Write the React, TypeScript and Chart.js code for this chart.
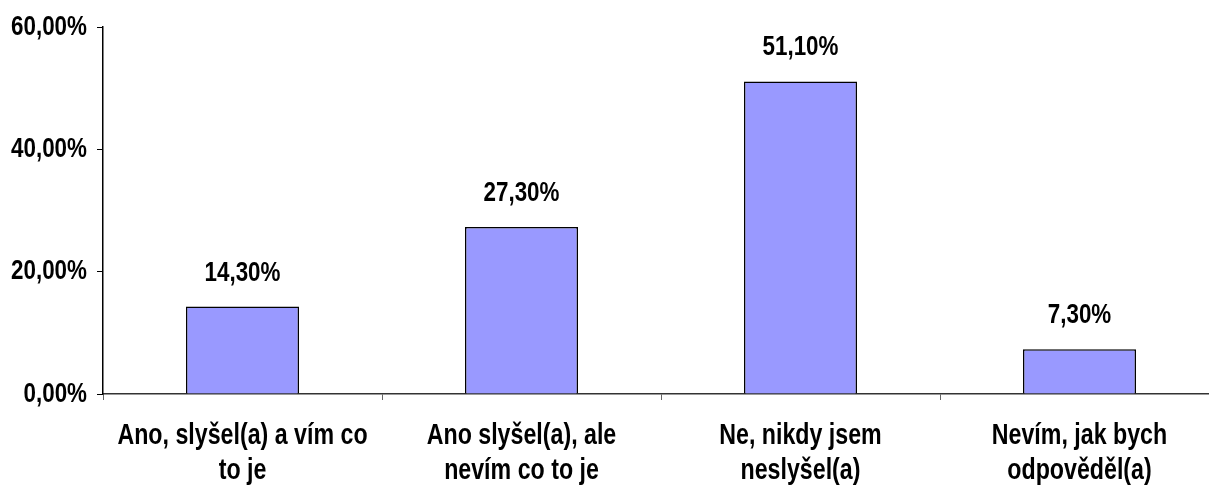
import React, { useEffect, useRef } from "react";
import { Chart, registerables } from "chart.js";

Chart.register(...registerables);

const categories: string[][] = [
  ["Ano, slyšel(a) a vím co", "to je"],
  ["Ano slyšel(a), ale", "nevím co to je"],
  ["Ne, nikdy jsem", "neslyšel(a)"],
  ["Nevím, jak bych", "odpověděl(a)"],
];
const values: number[] = [14.3, 27.3, 51.1, 7.3];
const yTicks: number[] = [0, 20, 40, 60];

const FONT = "'Liberation Sans', Arial, sans-serif";
const SX = 0.8; // horizontal condensing of all text
const fmt = (v: number) => v.toFixed(2).replace(".", ",") + "%";

const condensedText = {
  id: "condensedText",
  beforeInit(chart: any) {
    const ctx = chart.ctx;
    const orig = ctx.fillText;
    ctx.fillText = function (text: string, x: number, y: number) {
      this.save();
      this.translate(x, y);
      this.scale(SX, 1);
      orig.call(this, text, 0, 0);
      this.restore();
    };
  },
};

const dataLabels = {
  id: "dataLabels",
  afterDatasetsDraw(chart: any) {
    const ctx = chart.ctx;
    const meta = chart.getDatasetMeta(0);
    ctx.save();
    ctx.font = `bold 28px ${FONT}`;
    ctx.fillStyle = "#000";
    ctx.textAlign = "center";
    ctx.textBaseline = "alphabetic";
    meta.data.forEach((el: any, i: number) => {
      ctx.fillText(fmt(values[i]), el.x, el.y - 26);
    });
    ctx.restore();
  },
};

export default function App() {
  const ref = useRef<HTMLCanvasElement>(null);
  useEffect(() => {
    if (!ref.current) return;
    const chart = new Chart(ref.current, {
      type: "bar",
      data: {
        labels: categories,
        datasets: [
          {
            data: values,
            backgroundColor: "#9999FF",
            borderColor: "#000",
            borderWidth: 1.5,
            categoryPercentage: 1,
            barPercentage: 0.405,
          },
        ],
      },
      options: {
        responsive: false,
        animation: false,
        layout: { padding: { top: 27, right: 1, left: 0, bottom: 0 } },
        plugins: { legend: { display: false }, tooltip: { enabled: false } },
        scales: {
          x: {
            grid: { drawOnChartArea: false, drawTicks: true, tickLength: 6, offset: true, color: "#666" },
            border: { color: "#333", width: 1.5 },
            ticks: {
              color: "#000",
              font: { family: FONT, size: 29, weight: "bold", lineHeight: 1.2 },
              padding: 19,
              maxRotation: 0,
              autoSkip: false,
            },
            afterFit: (s: any) => { s.height = 99; },
          },
          y: {
            min: 0,
            max: 60,
            afterBuildTicks: (s: any) => { s.ticks = yTicks.map((v) => ({ value: v })); },
            grid: { drawOnChartArea: false, drawTicks: true, tickLength: 6, color: "#000" },
            border: { color: "#000", width: 1.5 },
            ticks: {
              color: "#000",
              font: { family: FONT, size: 28, weight: "bold" },
              padding: 10,
              callback: (v: any) => fmt(Number(v)),
            },
            afterFit: (s: any) => { s.width = 103; },
          },
        },
      },
      plugins: [condensedText, dataLabels],
    });
    return () => chart.destroy();
  }, []);
  return (
    <div style={{ position: "fixed", left: 0, top: 0, width: 1209, height: 493, overflow: "hidden", background: "#fff" }}>
      <canvas ref={ref} width={1220} height={493} style={{ width: 1220, height: 493, display: "block" }} />
    </div>
  );
}
